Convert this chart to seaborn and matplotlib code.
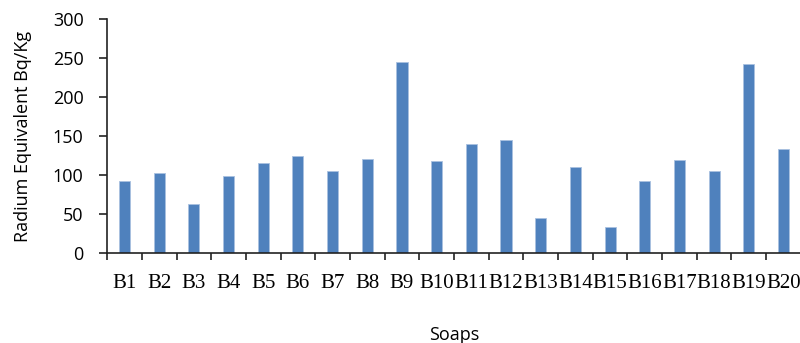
import numpy as np
import pandas as pd
import seaborn as sns
import matplotlib.pyplot as plt
from matplotlib.ticker import FixedLocator

soaps = [f'B{i}' for i in range(1, 21)]
radium_eq = [93, 103, 63, 99, 115, 124, 105, 121, 245, 118,
             140, 145, 45, 110, 34, 92, 119, 106, 242, 134]

df = pd.DataFrame({'Soaps': soaps, 'Raeq': radium_eq})

sns.set_theme(style='white')
plt.rcParams['font.family'] = ['Open Sans', 'DejaVu Sans']
plt.rcParams['text.color'] = 'black'
plt.rcParams['axes.labelcolor'] = 'black'
plt.rcParams['xtick.color'] = 'black'
plt.rcParams['ytick.color'] = 'black'

fig = plt.figure(figsize=(8, 3.43), dpi=100)
ax = fig.add_axes([0.134, 0.2615, 0.867, 0.6831])

sns.barplot(data=df, x='Soaps', y='Raeq', color='#4F81BD', saturation=1,
            width=0.32, edgecolor='#A9C1E0', linewidth=0.6, ax=ax)

ax.set_xlim(-0.5, len(soaps) - 0.5)
ax.set_ylim(0, 300)
ax.set_yticks(np.arange(0, 301, 50))

# category boundary ticks, Excel style
ax.xaxis.set_minor_locator(FixedLocator(np.arange(-0.5, len(soaps), 1)))
ax.tick_params(axis='x', which='major', length=0, pad=15)
ax.tick_params(axis='x', which='minor', length=5, width=1.2, color='#222222',
               direction='out', bottom=True)
ax.tick_params(axis='y', length=6, width=1.2, color='#222222', direction='out',
               left=True, labelsize=13, pad=11)

for lab in ax.get_xticklabels():
    lab.set_fontfamily(['Liberation Serif', 'DejaVu Serif'])
    lab.set_fontsize(15)

sns.despine(ax=ax)
for side in ['left', 'bottom']:
    ax.spines[side].set_color('#222222')
    ax.spines[side].set_linewidth(1.2)

ax.set_xlabel('Soaps', fontsize=13, labelpad=24)
ax.set_ylabel('Radium Equivalent Bq/Kg', fontsize=13, labelpad=15)

fig.savefig('out.png', dpi=100)
